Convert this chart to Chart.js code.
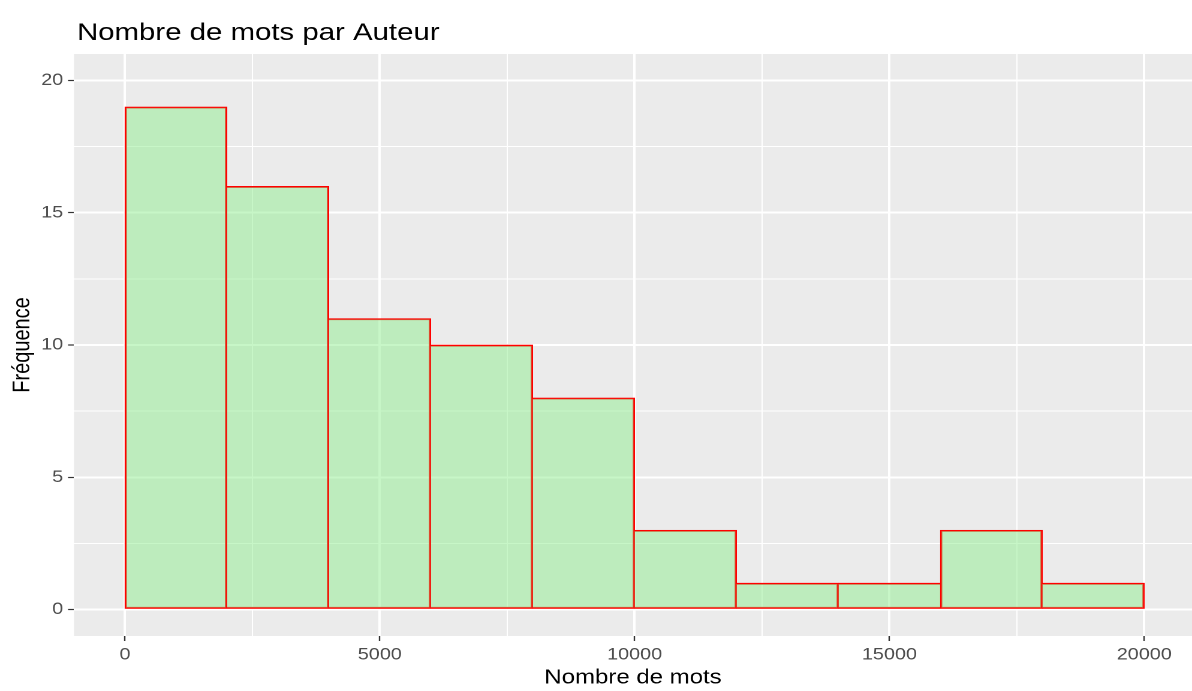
<!DOCTYPE html>
<html lang="fr">
<head>
    <meta charset="UTF-8">
    <title>Nombre de mots par Auteur</title>
    <script src="https://cdn.jsdelivr.net/npm/chart.js"></script>
    <style>
        html, body {
            margin: 0;
            padding: 0;
            background: #ffffff;
            overflow: hidden;
        }
        /* the original plot is stretched sideways, so the chart is drawn narrow and widened */
        #wrap {
            width: 994px;
            height: 691px;
            transform: scaleX(1.1992);
            transform-origin: 0 0;
        }
    </style>
</head>
<body>

<div id="wrap"><canvas id="histChart"></canvas></div>

<script>
    // histogram bins (2000 words wide) and their counts
    const binStarts = [0, 2000, 4000, 6000, 8000, 10000, 12000, 14000, 16000, 18000];
    const binWidth = 2000;
    const counts = [19, 16, 11, 10, 8, 3, 1, 1, 3, 1];

    // axis breaks
    const xMajorTicks = [0, 5000, 10000, 15000, 20000];
    const xMinorTicks = [2500, 7500, 12500, 17500];
    const yMajorTicks = [0, 5, 10, 15, 20];
    const yMinorTicks = [2.5, 7.5, 12.5, 17.5];

    const fontFamily = '"Liberation Sans", Arial, sans-serif';
    const edge = 1.3;

    const histData = binStarts.map((start, i) => ({ x: start + binWidth / 2, y: counts[i] }));

    function allTicks(major, minor) {
        return major.concat(minor).sort((a, b) => a - b).map(v => ({ value: v }));
    }

    // shared edges between two bars are drawn once, by the taller one
    function barBorder(c) {
        const i = c.dataIndex;
        const cur = counts[i];
        const left = (i === 0 || counts[i - 1] < cur) ? edge : 0;
        const right = (i === counts.length - 1 || counts[i + 1] <= cur) ? edge : 0;
        return { top: edge, bottom: edge, left: left, right: right };
    }

    // grey panel like ggplot
    const panelBackground = {
        id: 'panelBackground',
        beforeDraw(chart) {
            const { ctx, chartArea } = chart;
            ctx.save();
            ctx.fillStyle = '#EBEBEB';
            ctx.fillRect(chartArea.left, chartArea.top, chartArea.right - chartArea.left, chartArea.bottom - chartArea.top);
            ctx.restore();
        }
    };

    // title left aligned on the panel
    const plotTitle = {
        id: 'plotTitle',
        afterDraw(chart) {
            const { ctx, chartArea } = chart;
            ctx.save();
            ctx.fillStyle = '#000000';
            ctx.font = '24.5px ' + fontFamily;
            ctx.textAlign = 'left';
            ctx.textBaseline = 'alphabetic';
            ctx.fillText('Nombre de mots par Auteur', chartArea.left + 2.5, 40);
            ctx.restore();
        }
    };

    const ctx = document.getElementById('histChart').getContext('2d');
    const histChart = new Chart(ctx, {
        type: 'bar',
        data: {
            datasets: [{
                label: 'Fréquence',
                data: histData,
                backgroundColor: 'rgba(144, 238, 144, 0.5)',
                borderColor: '#FF0000',
                borderWidth: barBorder,
                borderSkipped: false,
                barPercentage: 1,
                categoryPercentage: 1
            }]
        },
        options: {
            responsive: true,
            maintainAspectRatio: false,
            animation: false,
            devicePixelRatio: 2,
            layout: {
                padding: { top: 54, right: 0, bottom: 0, left: 0 }
            },
            plugins: {
                legend: { display: false },
                tooltip: { enabled: false },
                title: { display: false }
            },
            scales: {
                x: {
                    type: 'linear',
                    min: -1000,
                    max: 20937,
                    offset: false,
                    afterBuildTicks: scale => { scale.ticks = allTicks(xMajorTicks, xMinorTicks); },
                    afterFit: scale => { scale.height = 55; },
                    border: { display: false },
                    grid: {
                        offset: false,
                        color: '#FFFFFF',
                        lineWidth: c => xMajorTicks.includes(c.tick.value) ? 2 : 1,
                        tickLength: 5,
                        tickWidth: 1.2,
                        tickColor: c => xMajorTicks.includes(c.tick.value) ? '#333333' : 'rgba(0,0,0,0)'
                    },
                    ticks: {
                        autoSkip: false,
                        maxRotation: 0,
                        padding: 4,
                        color: '#4D4D4D',
                        font: { family: fontFamily, size: 16.5 },
                        callback: value => xMajorTicks.includes(value) ? String(value) : ''
                    },
                    title: {
                        display: true,
                        text: 'Nombre de mots',
                        color: '#000000',
                        font: { family: fontFamily, size: 20 },
                        padding: { top: 0, bottom: 1 }
                    }
                },
                y: {
                    type: 'linear',
                    min: -1,
                    max: 21,
                    afterBuildTicks: scale => { scale.ticks = allTicks(yMajorTicks, yMinorTicks); },
                    afterFit: scale => { scale.width = 61.7; },
                    border: { display: false },
                    grid: {
                        color: '#FFFFFF',
                        lineWidth: c => yMajorTicks.includes(c.tick.value) ? 2 : 1,
                        tickLength: 5,
                        tickWidth: 1.2,
                        tickColor: c => yMajorTicks.includes(c.tick.value) ? '#333333' : 'rgba(0,0,0,0)'
                    },
                    ticks: {
                        autoSkip: false,
                        padding: 4,
                        color: '#4D4D4D',
                        font: { family: fontFamily, size: 16.5 },
                        callback: value => yMajorTicks.includes(value) ? String(value) : ''
                    },
                    title: {
                        display: true,
                        text: 'Fréquence',
                        color: '#000000',
                        font: { family: fontFamily, size: 20 },
                        padding: { top: 7, bottom: 0 }
                    }
                }
            }
        },
        plugins: [panelBackground, plotTitle]
    });
</script>

</body>
</html>
